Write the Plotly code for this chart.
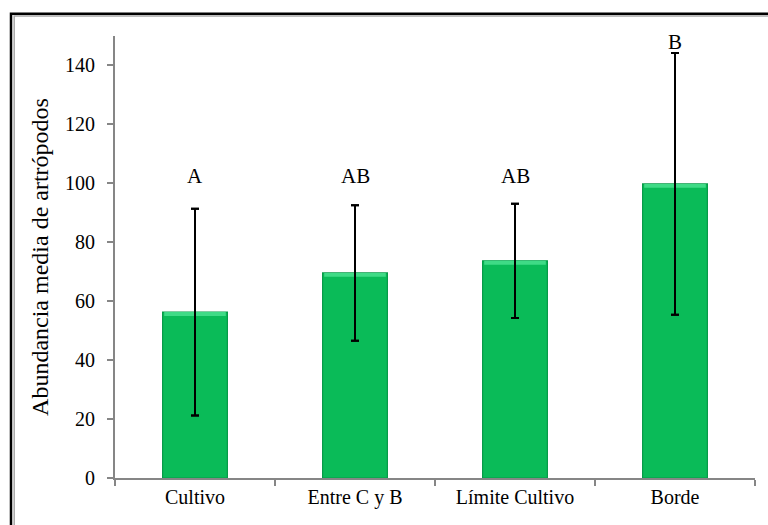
import plotly.graph_objects as go

categories = ["Cultivo", "Entre C y B", "Límite Cultivo", "Borde"]
means = [56.3, 69.6, 73.7, 99.8]
errors = [35.1, 23.0, 19.4, 44.4]
letters = ["A", "AB", "AB", "B"]
letter_y = [102.5, 102.5, 102.5, 148.0]

ff = "Liberation Serif"
bevel = 1.3  # thickness of the light top bevel, in data units

fig = go.Figure()
fig.add_trace(go.Bar(
    x=categories, y=means, width=0.405,
    marker=dict(color="#0ABB58", line=dict(color="#089a48", width=1.2)),
    error_y=dict(type="data", array=errors, visible=True, color="black",
                 thickness=2, width=4),
    showlegend=False, hoverinfo="skip",
))
fig.add_trace(go.Bar(
    x=categories, y=[bevel] * len(means), base=[m - bevel for m in means],
    width=0.385, marker=dict(color="#3FDB86", line=dict(width=0)),
    showlegend=False, hoverinfo="skip",
))
# redraw error bars on top of the bevel
fig.add_trace(go.Scatter(
    x=categories, y=means, mode="markers", marker=dict(size=0.1, opacity=0),
    error_y=dict(type="data", array=errors, visible=True, color="black",
                 thickness=2, width=4),
    showlegend=False, hoverinfo="skip",
))

for c, t, yy in zip(categories, letters, letter_y):
    fig.add_annotation(x=c, y=yy, text=t, showarrow=False,
                       font=dict(family=ff, size=21, color="black"))

# outer frame (partially clipped like the reference)
fig.add_shape(type="rect", xref="paper", yref="paper",
              x0=-0.1625, y0=-0.3, x1=1.2, y1=1.0505,
              line=dict(color="black", width=2.5), layer="above")
fig.add_shape(type="rect", xref="paper", yref="paper",
              x0=-0.1575, y0=-0.3, x1=1.2, y1=1.0455,
              line=dict(color="#a8a8a8", width=1.5), layer="above")

fig.update_layout(
    width=768, height=525,
    margin=dict(l=115, r=13, t=36, b=47),
    paper_bgcolor="white", plot_bgcolor="white",
    font=dict(family=ff, size=20, color="black"),
    barmode="overlay", bargap=0.595,
)
fig.update_xaxes(
    showline=True, linecolor="#868686", linewidth=2,
    ticks="outside", tickson="boundaries", ticklen=6, tickcolor="#868686",
    tickwidth=1.5, showgrid=False,
    tickfont=dict(family=ff, size=20, color="black"),
)
fig.update_yaxes(
    range=[0, 150], tickvals=[0, 20, 40, 60, 80, 100, 120, 140],
    showline=True, linecolor="#868686", linewidth=2,
    ticks="outside", ticklen=6, tickcolor="#868686", tickwidth=1.5,
    showgrid=False, zeroline=False, ticklabelstandoff=8,
    tickfont=dict(family=ff, size=20, color="black"),
    title=dict(text="Abundancia media de artrópodos",
               font=dict(family=ff, size=24, color="black"), standoff=10),
)

fig.write_html("out.html")
